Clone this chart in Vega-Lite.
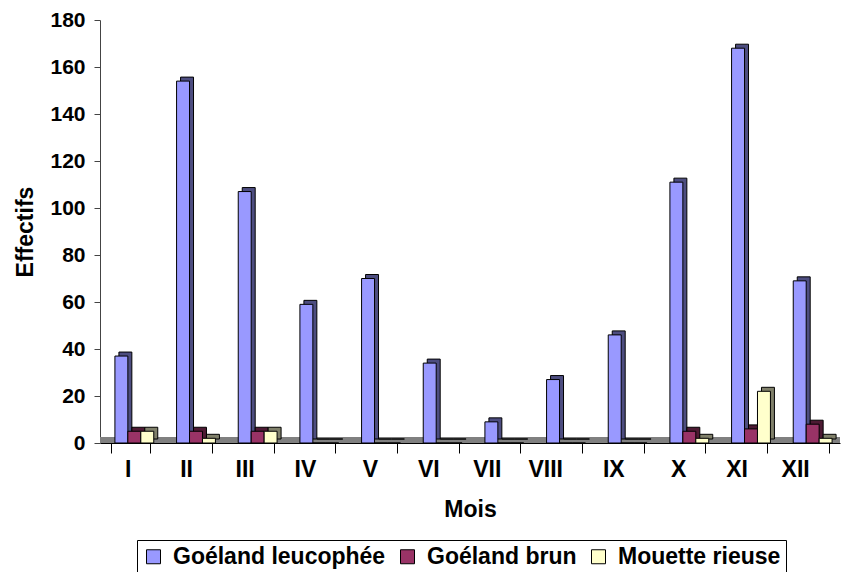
{
  "$schema": "https://vega.github.io/schema/vega-lite/v6.json",
  "width": 740,
  "height": 423,
  "autosize": "none",
  "padding": {"left": 100, "top": 20, "right": 6, "bottom": 129},
  "background": "white",
  "config": {"view": {"stroke": null}, "font": "Liberation Sans"},
  "data": {"values": [
    {"mois": "I", "espece": "Goéland leucophée", "effectif": 37},
    {"mois": "I", "espece": "Goéland brun", "effectif": 5},
    {"mois": "I", "espece": "Mouette rieuse", "effectif": 5},
    {"mois": "II", "espece": "Goéland leucophée", "effectif": 154},
    {"mois": "II", "espece": "Goéland brun", "effectif": 5},
    {"mois": "II", "espece": "Mouette rieuse", "effectif": 2},
    {"mois": "III", "espece": "Goéland leucophée", "effectif": 107},
    {"mois": "III", "espece": "Goéland brun", "effectif": 5},
    {"mois": "III", "espece": "Mouette rieuse", "effectif": 5},
    {"mois": "IV", "espece": "Goéland leucophée", "effectif": 59},
    {"mois": "IV", "espece": "Goéland brun", "effectif": 0},
    {"mois": "IV", "espece": "Mouette rieuse", "effectif": 0},
    {"mois": "V", "espece": "Goéland leucophée", "effectif": 70},
    {"mois": "V", "espece": "Goéland brun", "effectif": 0},
    {"mois": "V", "espece": "Mouette rieuse", "effectif": 0},
    {"mois": "VI", "espece": "Goéland leucophée", "effectif": 34},
    {"mois": "VI", "espece": "Goéland brun", "effectif": 0},
    {"mois": "VI", "espece": "Mouette rieuse", "effectif": 0},
    {"mois": "VII", "espece": "Goéland leucophée", "effectif": 9},
    {"mois": "VII", "espece": "Goéland brun", "effectif": 0},
    {"mois": "VII", "espece": "Mouette rieuse", "effectif": 0},
    {"mois": "VIII", "espece": "Goéland leucophée", "effectif": 27},
    {"mois": "VIII", "espece": "Goéland brun", "effectif": 0},
    {"mois": "VIII", "espece": "Mouette rieuse", "effectif": 0},
    {"mois": "IX", "espece": "Goéland leucophée", "effectif": 46},
    {"mois": "IX", "espece": "Goéland brun", "effectif": 0},
    {"mois": "IX", "espece": "Mouette rieuse", "effectif": 0},
    {"mois": "X", "espece": "Goéland leucophée", "effectif": 111},
    {"mois": "X", "espece": "Goéland brun", "effectif": 5},
    {"mois": "X", "espece": "Mouette rieuse", "effectif": 2},
    {"mois": "XI", "espece": "Goéland leucophée", "effectif": 168},
    {"mois": "XI", "espece": "Goéland brun", "effectif": 6},
    {"mois": "XI", "espece": "Mouette rieuse", "effectif": 22},
    {"mois": "XII", "espece": "Goéland leucophée", "effectif": 69},
    {"mois": "XII", "espece": "Goéland brun", "effectif": 8},
    {"mois": "XII", "espece": "Mouette rieuse", "effectif": 2}
  ]},
  "layer": [
    {
      "mark": {"type": "rect", "color": "#808080"},
      "encoding": {
        "y": {"datum": 0, "type": "quantitative"},
        "y2": {"datum": 2.6}
      }
    },
    {
      "mark": {"type": "bar", "yOffset": -4, "stroke": "black", "strokeWidth": 1},
      "encoding": {
        "x": {
          "field": "mois", "type": "nominal",
          "sort": ["I","II","III","IV","V","VI","VII","VIII","IX","X","XI","XII"],
          "scale": {"paddingInner": 0.37, "paddingOuter": 0.185}
        },
        "xOffset": {
          "field": "espece", "type": "nominal",
          "sort": ["Goéland leucophée", "Goéland brun", "Mouette rieuse"],
          "scale": {"range": [7.5, 46.35]}
        },
        "y": {"field": "effectif", "type": "quantitative"},
        "color": {
          "field": "espece", "type": "nominal",
          "sort": ["Goéland leucophée", "Goéland brun", "Mouette rieuse"],
          "scale": {"domain": ["Goéland leucophée", "Goéland brun", "Mouette rieuse"], "range": ["#4D4D80", "#4D1A33", "#80806A"]},
          "legend": null
        }
      }
    },
    {
      "mark": {"type": "bar", "stroke": "black", "strokeWidth": 1},
      "encoding": {
        "x": {
          "field": "mois", "type": "nominal",
          "sort": ["I","II","III","IV","V","VI","VII","VIII","IX","X","XI","XII"],
          "scale": {"paddingInner": 0.37, "paddingOuter": 0.185},
          "axis": {
            "title": "Mois", "titleFontSize": 23, "titleFontWeight": "bold", "titleColor": "black", "titlePadding": 17,
            "labelAngle": 0, "labelFontSize": 23, "labelFontWeight": "bold", "labelColor": "black", "labelPadding": 16,
            "tickBand": "extent", "tickSize": 10, "tickColor": "black", "domainColor": "black", "grid": false
          }
        },
        "xOffset": {
          "field": "espece", "type": "nominal",
          "sort": ["Goéland leucophée", "Goéland brun", "Mouette rieuse"],
          "scale": {"range": [3.5, 42.35]}
        },
        "y": {
          "field": "effectif", "type": "quantitative",
          "scale": {"domain": [0, 180], "nice": false},
          "axis": {
            "title": "Effectifs", "titleFontSize": 23, "titleFontWeight": "bold", "titleColor": "black", "titlePadding": 12,
            "values": [0,20,40,60,80,100,120,140,160,180],
            "labelFontSize": 21, "labelFontWeight": "bold", "labelColor": "black", "labelPadding": 9,
            "tickSize": 6, "tickColor": "#444", "domainColor": "#444", "grid": false
          }
        },
        "color": {
          "field": "espece", "type": "nominal",
          "sort": ["Goéland leucophée", "Goéland brun", "Mouette rieuse"],
          "scale": {"domain": ["Goéland leucophée", "Goéland brun", "Mouette rieuse"], "range": ["#9999FF", "#993366", "#FFFFCC"]},
          "legend": {
            "title": null, "orient": "none", "direction": "horizontal",
            "legendX": 37, "legendY": 520,
            "symbolType": "square", "symbolSize": 196, "symbolStrokeColor": "black", "symbolStrokeWidth": 1,
            "labelFontSize": 23, "labelFontWeight": "bold", "labelColor": "black", "labelLimit": 0,
            "strokeColor": "black", "padding": 5, "columnPadding": 10, "labelOffset": 8
          }
        }
      }
    }
  ],
  "resolve": {"scale": {"color": "independent", "xOffset": "independent"}}
}
